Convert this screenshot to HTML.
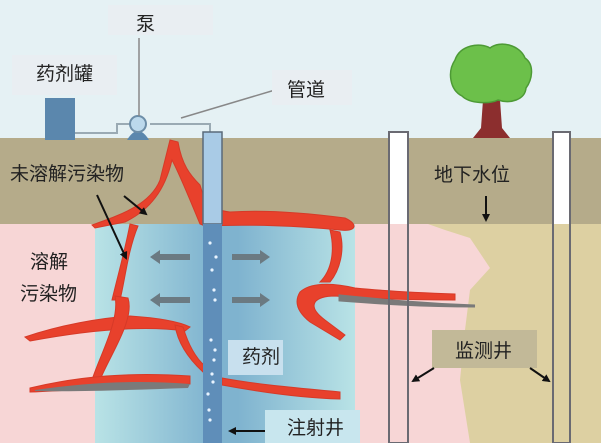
<!DOCTYPE html>
<html><head><meta charset="utf-8"><style>
body{margin:0;width:601px;height:443px;overflow:hidden}
text{font-family:"Liberation Sans","Noto Sans CJK SC",sans-serif;fill:#222}
</style></head><body>
<svg width="601" height="443" viewBox="0 0 601 443" xmlns="http://www.w3.org/2000/svg">
<defs>
<linearGradient id="col" x1="0" x2="1" y1="0" y2="0">
<stop offset="0" stop-color="#b9e3e6"/><stop offset="0.45" stop-color="#7fb3cf"/><stop offset="0.55" stop-color="#7fb3cf"/><stop offset="1" stop-color="#b9e3e6"/>
</linearGradient>
<marker id="ah" markerWidth="8" markerHeight="8" refX="6" refY="4" orient="auto" markerUnits="userSpaceOnUse"><path d="M0,0 L8,4 L0,8z" fill="#111"/></marker>
</defs>
<rect width="601" height="443" fill="#e5f1f4"/>
<rect y="138" width="601" height="86" fill="#b5ab8a"/>
<rect y="224" width="601" height="219" fill="#f7d6d6"/>
<path d="M428,224 L445,230 L470,238 L490,268 L470,290 L465,330 L460,380 L470,443 L601,443 L601,224z" fill="#ddd0a2"/>
<rect x="95" y="224" width="260" height="219" fill="url(#col)"/>
<!-- tank, pump, pipes -->
<rect x="45" y="98" width="30" height="42" fill="#5b87ad"/>
<path d="M75,133 H117 V124 H130 M150,124 H210 V132" stroke="#9aaab3" stroke-width="2" fill="none"/>
<path d="M127,140 Q138,122 149,140z" fill="#5b87ad"/>
<circle cx="138" cy="124" r="8" fill="#bcd9ec" stroke="#6d8ea8" stroke-width="2"/>
<line x1="139" y1="38" x2="139" y2="116" stroke="#888" stroke-width="1.5"/>
<line x1="181" y1="118" x2="275" y2="90" stroke="#888" stroke-width="1.5"/>
<rect x="108" y="5" width="105" height="30" fill="#e9eef2"/>
<text x="136" y="30" font-size="19">泵</text>
<rect x="12" y="55" width="105" height="40" fill="#e9eef2"/>
<text x="36" y="80" font-size="19">药剂罐</text>
<rect x="272" y="70" width="80" height="35" fill="#e9eef2"/>
<text x="287" y="96" font-size="19">管道</text>
<!-- red contaminant -->
<g fill="#e8412c" stroke="#d63a28" stroke-width="1">
<path d="M170,140 L178,142 C182,165 190,175 200,185 C204,200 210,210 230,212 C260,210 300,212 345,218 C360,225 355,232 340,230 C300,226 250,224 205,226 L200,224 C190,200 180,175 172,160 C165,190 150,210 125,222 L95,228 L92,225 C120,215 150,205 160,180z"/>
<path d="M130,224 L138,226 C128,250 125,280 120,300 L112,300 C118,275 125,250 130,224z"/>
<path d="M25,337 C60,325 100,318 130,316 C160,318 180,322 190,327 L185,331 C150,326 100,328 30,341z"/>
<path d="M115,296 L128,298 C135,320 110,355 100,380 L92,380 C100,355 120,320 115,296z"/>
<path d="M175,325 L183,327 C190,350 198,360 205,366 L203,372 C190,360 178,345 175,325z"/>
<path d="M30,388 C80,376 130,372 190,376 L190,384 C130,386 80,390 30,392z"/>
<path d="M222,378 C260,385 300,388 340,392 L340,399 C300,398 260,392 222,385z"/>
<path d="M330,230 L340,232 C345,250 340,270 330,282 L320,282 C332,270 335,250 330,230z"/>
<path d="M300,292 C310,283 330,282 355,288 C375,290 400,292 455,294 L455,300 C400,300 360,298 335,296 C315,296 305,305 325,320 L345,335 L340,340 L310,322 C295,310 295,300 300,292z"/>
</g>
<path d="M35,390 C90,382 140,380 190,384 L188,388 C130,390 80,392 35,391z" fill="#7a7a7a"/>
<path d="M340,296 C380,300 420,304 475,306 C420,306 380,303 340,300z" fill="#7a7a7a" stroke="#7a7a7a" stroke-width="3"/>
<!-- injection well -->
<rect x="203" y="132" width="19" height="92" fill="#a9cbe6" stroke="#5a6a7a" stroke-width="1.5"/>
<rect x="203" y="224" width="19" height="219" fill="#5f8eb9"/>
<g fill="#e8f4ff">
<circle cx="210" cy="243" r="1.6"/><circle cx="216" cy="257" r="1.6"/><circle cx="212" cy="270" r="1.6"/><circle cx="214" cy="290" r="1.6"/><circle cx="215" cy="300" r="1.6"/><circle cx="211" cy="340" r="1.6"/><circle cx="215" cy="350" r="1.6"/><circle cx="214" cy="360" r="1.6"/><circle cx="212" cy="374" r="1.6"/><circle cx="213" cy="382" r="1.6"/><circle cx="208" cy="394" r="1.6"/><circle cx="209" cy="410" r="1.6"/><circle cx="210" cy="420" r="1.6"/>
</g>
<!-- gray arrows -->
<g fill="#6b7a82">
<path d="M150,257 L160,250 V254 H190 V260 H160 V264z"/>
<path d="M150,300 L160,293 V297 H190 V303 H160 V307z"/>
<path d="M270,257 L260,250 V254 H232 V260 H260 V264z"/>
<path d="M270,300 L260,293 V297 H232 V303 H260 V307z"/>
</g>
<!-- monitoring wells -->
<rect x="389" y="132" width="19" height="311" fill="none" stroke="#6a6a72" stroke-width="2"/>
<rect x="390" y="133" width="17" height="91" fill="#fff"/>
<rect x="553" y="132" width="17" height="311" fill="none" stroke="#6a6a72" stroke-width="2"/>
<rect x="554" y="133" width="15" height="91" fill="#fff"/>
<!-- tree -->
<path d="M483,100 L500,100 L502,128 L510,138 L473,138 L481,128z" fill="#8c2e2e"/>
<path d="M455,60 C460,45 480,42 490,48 C500,40 520,45 525,58 C535,65 532,80 526,88 C525,100 510,104 498,100 C490,104 470,104 462,96 C450,90 447,72 455,60z" fill="#6cc04a" stroke="#4d9a35" stroke-width="1.5"/>
<!-- labels -->
<text x="10" y="180" font-size="19">未溶解污染物</text>
<line x1="97" y1="195" x2="126" y2="258" stroke="#111" stroke-width="2" marker-end="url(#ah)"/>
<line x1="124" y1="196" x2="146" y2="214" stroke="#111" stroke-width="2" marker-end="url(#ah)"/>
<text x="30" y="268" font-size="19">溶解</text>
<text x="20" y="300" font-size="19">污染物</text>
<rect x="228" y="340" width="55" height="35" fill="#c8e0ee"/>
<text x="242" y="363" font-size="19">药剂</text>
<rect x="265" y="410" width="95" height="33" fill="#c8e6ee"/>
<text x="287" y="434" font-size="19">注射井</text>
<line x1="265" y1="431" x2="230" y2="431" stroke="#111" stroke-width="2" marker-end="url(#ah)"/>
<text x="434" y="181" font-size="19">地下水位</text>
<line x1="486" y1="196" x2="486" y2="220" stroke="#111" stroke-width="2" marker-end="url(#ah)"/>
<rect x="432" y="330" width="105" height="38" fill="#c2b998"/>
<text x="455" y="357" font-size="19">监测井</text>
<line x1="434" y1="368" x2="413" y2="381" stroke="#111" stroke-width="2" marker-end="url(#ah)"/>
<line x1="530" y1="368" x2="549" y2="381" stroke="#111" stroke-width="2" marker-end="url(#ah)"/>
</svg>
</body></html>
